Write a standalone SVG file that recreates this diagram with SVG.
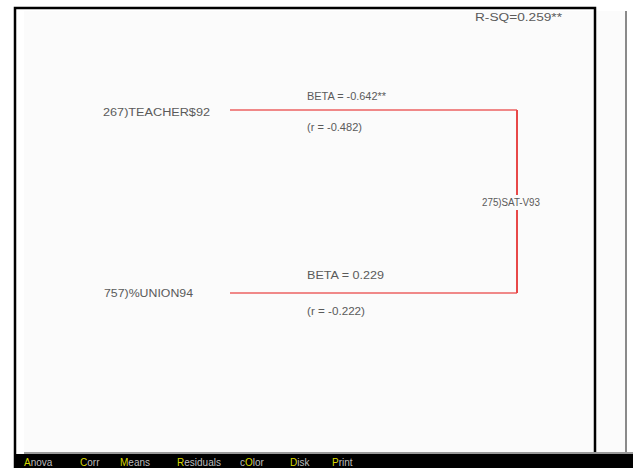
<svg xmlns="http://www.w3.org/2000/svg" width="633" height="468" viewBox="0 0 633 468">
<style>
.t{font-family:"Liberation Sans",Arial,sans-serif;font-size:10px;fill:#5a5a5a}
.m{font-family:"Liberation Sans",Arial,sans-serif;font-size:10px;fill:#bdbdbd}
.y{fill:#d8d800}
.c{fill:none;stroke:#f08888;stroke-width:2}
.v{fill:none;stroke:#e84848;stroke-width:2}
</style>
<rect x="0" y="0" width="633" height="468" fill="#ffffff"/>
<rect x="24" y="11" width="602" height="443" fill="#fbfbfb"/>
<line x1="626" y1="11" x2="626" y2="455" stroke="#8a8a8a" stroke-width="2"/>
<path d="M15,468 V8 H595 V455" fill="none" stroke="#000" stroke-width="2.5"/>
<rect x="24" y="452" width="609" height="2" fill="#9a9a9a"/>
<rect x="16" y="454" width="617" height="14" fill="#000"/>
<g id="menu">
<text class="m" x="24" y="466"><tspan class="y">A</tspan>nova</text>
<text class="m" x="80" y="466"><tspan class="y">C</tspan>orr</text>
<text class="m" x="120" y="466"><tspan class="y">M</tspan>eans</text>
<text class="m" x="177" y="466"><tspan class="y">R</tspan>esiduals</text>
<text class="m" x="240" y="466">c<tspan class="y">O</tspan>lor</text>
<text class="m" x="290" y="466"><tspan class="y">D</tspan>isk</text>
<text class="m" x="332" y="466"><tspan class="y">P</tspan>rint</text>
</g>
<text class="t" x="475" y="21" textLength="87" lengthAdjust="spacingAndGlyphs">R-SQ=0.259**</text>
<g id="connectors">
<path class="c" d="M230,110 H517"/>
<path class="c" d="M230,293 H517"/>
<path class="v" d="M517,110 V293"/>
<text class="t" x="307" y="100" textLength="79" lengthAdjust="spacingAndGlyphs">BETA = -0.642**</text>
<text class="t" x="307" y="131" textLength="55" lengthAdjust="spacingAndGlyphs">(r = -0.482)</text>
<text class="t" x="307" y="279" textLength="77" lengthAdjust="spacingAndGlyphs">BETA = 0.229</text>
<text class="t" x="307" y="315" textLength="58" lengthAdjust="spacingAndGlyphs">(r = -0.222)</text>
</g>
<g id="node-teacher">
<text class="t" x="103" y="116" textLength="107" lengthAdjust="spacingAndGlyphs">267)TEACHER$92</text>
</g>
<g id="node-union">
<text class="t" x="104" y="297" textLength="89" lengthAdjust="spacingAndGlyphs">757)%UNION94</text>
</g>
<g id="node-sat">
<rect x="480" y="195" width="62" height="15" fill="#fbfbfb"/>
<text class="t" x="482" y="206" textLength="58" lengthAdjust="spacingAndGlyphs">275)SAT-V93</text>
</g>
</svg>
